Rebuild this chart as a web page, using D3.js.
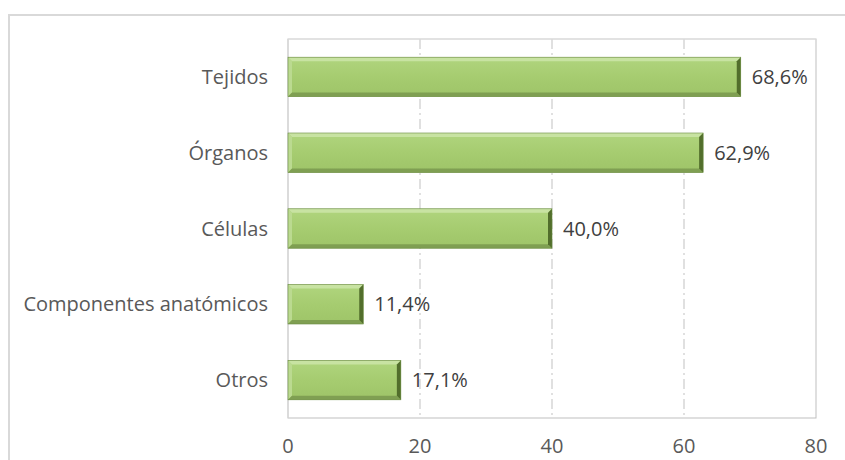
<!DOCTYPE html>
<html><head><meta charset="utf-8">
<script src="https://cdn.jsdelivr.net/npm/d3@7"></script>
<style>body{margin:0;background:#fff}svg{display:block}</style>
</head><body>
<script>
const categories = ["Tejidos","Órganos","Células","Componentes anatómicos","Otros"];
const values = [68.6, 62.9, 40.0, 11.4, 17.1];
const valueLabels = ["68,6%","62,9%","40,0%","11,4%","17,1%"];
const xTicks = [0,20,40,60,80];

(function(){
const W = 845, H = 460;
const svg = d3.select("body").append("svg").attr("width",W).attr("height",H);
const font = "'Open Sans', sans-serif";

// outer frame
svg.append("rect").attr("x",9).attr("y",15).attr("width",900).attr("height",600)
  .attr("fill","#fff").attr("stroke","#d9d9d9").attr("stroke-width",2);

const pL = 288, pR = 816, pT = 39, pB = 418;
const x = d3.scaleLinear().domain([0,80]).range([pL,pR]);
const y = d3.scaleBand().domain(categories).range([pT,pB]).paddingInner(0.48).paddingOuter(0.24);

const defs = svg.append("defs");
const g = defs.append("linearGradient").attr("id","barg").attr("x1",0).attr("y1",0).attr("x2",0).attr("y2",1);
g.append("stop").attr("offset","0%").attr("stop-color","#b0d57e");
g.append("stop").attr("offset","50%").attr("stop-color","#a6cc70");
g.append("stop").attr("offset","100%").attr("stop-color","#9ec468");

// gridlines
svg.append("g").selectAll("line").data(xTicks.filter(d=>d>0 && d<80)).join("line")
  .attr("x1",d=>x(d)).attr("x2",d=>x(d)).attr("y1",pT).attr("y2",pB)
  .attr("stroke","#d0d0d0").attr("stroke-width",1.3).attr("stroke-dasharray","10,4,2,4");

// plot frame
svg.append("rect").attr("x",pL).attr("y",pT).attr("width",pR-pL).attr("height",pB-pT)
  .attr("fill","none").attr("stroke","#bfbfbf").attr("stroke-width",1);
svg.append("line").attr("x1",pL).attr("x2",pR).attr("y1",pT).attr("y2",pT).attr("stroke","#e6e6e6").attr("stroke-width",1.2);
svg.append("line").attr("x1",pL).attr("x2",pL).attr("y1",pT).attr("y2",pB).attr("stroke","#d9d9d9").attr("stroke-width",1.2);

// bars
const bars = svg.append("g").selectAll("g").data(categories).join("g");
const bw = 4;
bars.each(function(c,i){
  const s = d3.select(this);
  const x0 = x(0), x1 = x(values[i]), y0 = y(c), h = y.bandwidth(), y1 = y0+h;
  s.append("rect").attr("x",x0).attr("y",y0).attr("width",x1-x0).attr("height",h).attr("fill","url(#barg)");
  s.append("polygon").attr("points",[[x0,y0],[x1,y0],[x1-bw,y0+bw],[x0+bw,y0+bw]].join(" ")).attr("fill","#c8e3a2");
  s.append("polygon").attr("points",[[x0,y0],[x0+bw,y0+bw],[x0+bw,y1-bw],[x0,y1]].join(" ")).attr("fill","#bbda90");
  s.append("polygon").attr("points",[[x0,y1],[x0+bw,y1-bw],[x1-bw,y1-bw],[x1,y1]].join(" ")).attr("fill","#7f9f52");
  s.append("polygon").attr("points",[[x1,y0],[x1,y1],[x1-bw,y1-bw],[x1-bw,y0+bw]].join(" ")).attr("fill","#526e2c");
  s.append("rect").attr("x",x0).attr("y",y0).attr("width",x1-x0).attr("height",h).attr("fill","none").attr("stroke","#6a8a42").attr("stroke-width",0.6);
  s.append("text").attr("x",x1+11).attr("y",y0+h/2).attr("dy","0.35em")
    .attr("font-family",font).attr("font-size",20).attr("fill","#404040").text(valueLabels[i]);
});

// category labels
svg.append("g").selectAll("text").data(categories).join("text")
  .attr("x",268).attr("y",d=>y(d)+y.bandwidth()/2).attr("dy","0.35em").attr("text-anchor","end")
  .attr("font-family",font).attr("font-size",20).attr("fill","#595959").text(d=>d);

// x tick labels
svg.append("g").selectAll("text").data(xTicks).join("text")
  .attr("x",d=>x(d)).attr("y",446).attr("dy","0.35em").attr("text-anchor","middle")
  .attr("font-family",font).attr("font-size",20).attr("fill","#595959").text(d=>d);
})();
</script>
</body></html>
